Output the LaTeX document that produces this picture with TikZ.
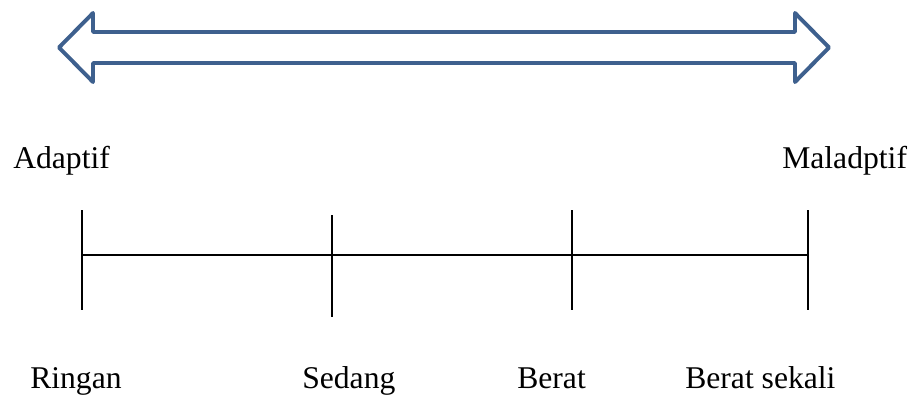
\documentclass[tikz,border=0pt]{standalone}
\usepackage{fontspec}
\setmainfont{Liberation Serif}
\usepackage{xcolor}
\definecolor{Col1}{RGB}{62,96,142}
\usepackage{tikz}
\tikzstyle{Label}=[inner sep=0pt,anchor=base west,
font=\fontsize{22.5}{27}\selectfont]
\tikzstyle{Edge}=[draw=black,line width=1.4pt]
\tikzstyle{Arrow}=[draw=Col1,line width=2.8pt,line join=round]
\begin{document}
\begin{tikzpicture}[x=0.25mm,y=-0.25mm]
        \useasboundingbox(0,0)rectangle(912,394);
        \draw[Arrow](59,47.5)--(93,13)--(93,32)--(795,32)--(795,13)
            --(829,47.5)--(795,82)--(795,63)--(93,63)--(93,82)--cycle;
        \node[Label](adaptif)at(13,168){Adaptif};
        \node[Label](maladptif)at(782,168){Maladptif};
        \coordinate(t1)at(82,210);
        \coordinate(b1)at(82,310);
        \coordinate(t2)at(332,215);
        \coordinate(b2)at(332,317);
        \coordinate(t3)at(572,210);
        \coordinate(b3)at(572,310);
        \coordinate(t4)at(808,210);
        \coordinate(b4)at(808,310);
        \coordinate(m1)at(82,255);
        \coordinate(m4)at(808,255);
        \draw[Edge](t1)--(b1);
        \draw[Edge](t2)--(b2);
        \draw[Edge](t3)--(b3);
        \draw[Edge](t4)--(b4);
        \draw[Edge](m1)--(m4);
        \node[Label](ringan)at(30,388){Ringan};
        \node[Label](sedang)at(302,388){Sedang};
        \node[Label](berat)at(517,388){Berat};
        \node[Label](sekali)at(685,388){Berat sekali};
    \end{tikzpicture}
\end{document}
